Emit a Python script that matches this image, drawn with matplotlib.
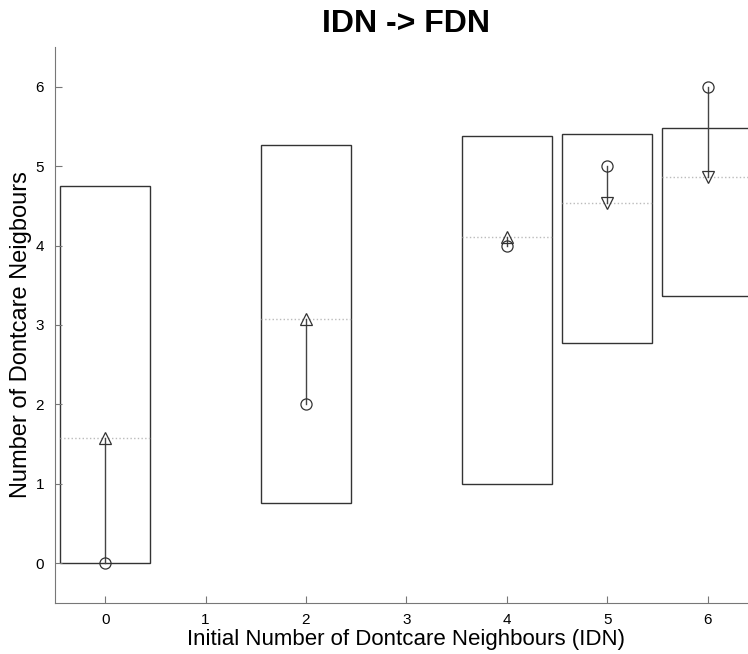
import matplotlib.pyplot as plt
import matplotlib.patches as patches

plt.rcParams['font.family'] = ['Liberation Sans', 'DejaVu Sans']

# Data
idn = [0, 2, 4, 5, 6]
box_low = [0.0, 0.76, 1.0, 2.77, 3.37]
box_high = [4.75, 5.26, 5.38, 5.40, 5.48]
fdn_mean = [1.58, 3.07, 4.11, 4.53, 4.86]
idn_value = [0, 2, 4, 5, 6]

fig = plt.figure(figsize=(7.48, 6.54), dpi=100)
ax = fig.add_axes([55 / 748, 1 - 603 / 654, 7 * 100.4 / 748, 556 / 654])

half_w = 0.45
for x, lo, hi, m, v in zip(idn, box_low, box_high, fdn_mean, idn_value):
    ax.add_patch(patches.Rectangle((x - half_w, lo), 2 * half_w, hi - lo,
                                   fill=False, edgecolor='#333333', linewidth=1.0))
    ax.plot([x - half_w, x + half_w], [m, m], color='#bbbbbb', linestyle=':', linewidth=1.0)
    ax.plot([x, x], [v, m], color='#444444', linewidth=1.0)
    ax.plot(x, v, marker='o', markersize=8, markerfacecolor='none',
            markeredgecolor='#333333', markeredgewidth=0.9, linestyle='none')
    mk = '^' if m > v else 'v'
    ax.plot(x, m, marker=mk, markersize=9, markerfacecolor='none',
            markeredgecolor='#333333', markeredgewidth=0.9, linestyle='none')

ax.set_xlim(-0.5, 6.5)
ax.set_ylim(-0.5, 6.5)
ax.set_xticks(range(0, 7))
ax.set_yticks(range(0, 7))
ax.tick_params(direction='in', length=5, color='#777777', labelsize=11)
ax.tick_params(axis='x', pad=7)
ax.tick_params(axis='y', pad=8)
for s in ['top', 'right']:
    ax.spines[s].set_visible(False)
for s in ['left', 'bottom']:
    ax.spines[s].set_color('#777777')

ax.set_xlabel('Initial Number of Dontcare Neighbours (IDN)', fontsize=16, labelpad=2)
ax.set_ylabel('Number of Dontcare Neigbours', fontsize=17)
ax.yaxis.set_label_coords(-23 / 703, 0.482)
ax.set_title('IDN -> FDN', fontsize=23, fontweight='bold', pad=11)

fig.savefig('out.png', dpi=100)
